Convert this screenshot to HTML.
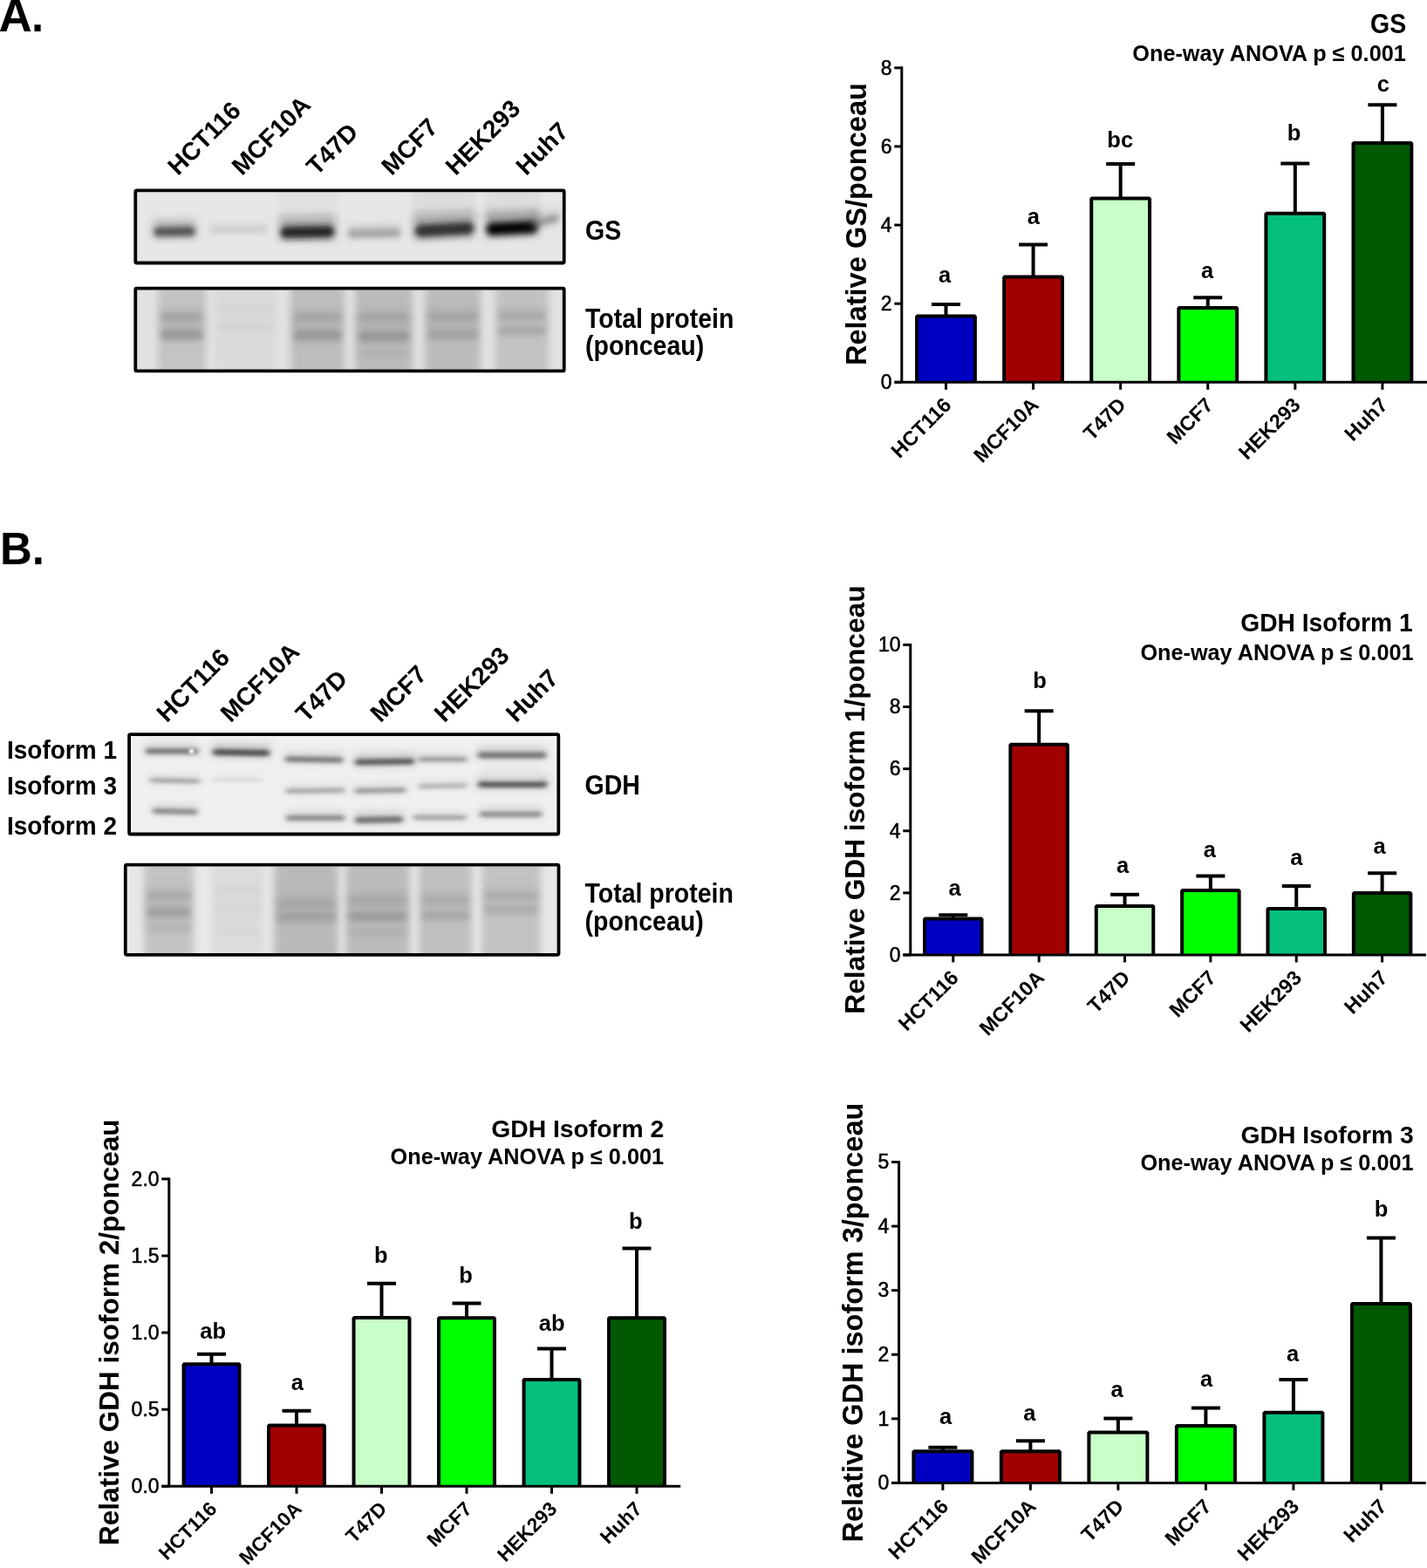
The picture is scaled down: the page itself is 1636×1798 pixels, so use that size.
<!DOCTYPE html>
<html><head><meta charset="utf-8"><title>Figure</title><style>html,body{margin:0;padding:0;background:#fff;overflow:hidden}svg{display:block}</style></head><body>
<svg width="1636" height="1798" viewBox="0 0 1636 1798" font-family="'Liberation Sans', Arial, Helvetica, sans-serif" fill="#000">
<defs><filter id="b2" x="-50%" y="-200%" width="200%" height="500%"><feGaussianBlur stdDeviation="2.2 2.4"/></filter><filter id="b25" x="-50%" y="-200%" width="200%" height="500%"><feGaussianBlur stdDeviation="3 3.6"/></filter><filter id="b3" x="-50%" y="-200%" width="200%" height="500%"><feGaussianBlur stdDeviation="3.2 3.4"/></filter><filter id="b4" x="-30%" y="-30%" width="160%" height="160%"><feGaussianBlur stdDeviation="4.5 3"/></filter><filter id="bg" x="-50%" y="-200%" width="200%" height="500%"><feGaussianBlur stdDeviation="3 1.9"/></filter><filter id="b1" x="-100%" y="-100%" width="300%" height="300%"><feGaussianBlur stdDeviation="0.8"/></filter><filter id="b5" x="-50%" y="-100%" width="200%" height="300%"><feGaussianBlur stdDeviation="4 4"/></filter></defs>
<rect width="1636" height="1798" fill="#fff"/>
<text x="-1.6" y="35.8" font-size="53" font-weight="bold">A</text>
<text x="36.1" y="35.8" font-size="51" font-weight="bold">.</text>
<text x="0" y="646.7" font-size="51" font-weight="bold">B.</text>
<text transform="translate(204.1 202.3) rotate(-45)" font-size="28.4" font-weight="bold">HCT116</text>
<text transform="translate(277.4 202.3) rotate(-45)" font-size="28.4" font-weight="bold">MCF10A</text>
<text transform="translate(363.1 202.3) rotate(-45)" font-size="28.4" font-weight="bold">T47D</text>
<text transform="translate(449.1 202.3) rotate(-45)" font-size="28.4" font-weight="bold">MCF7</text>
<text transform="translate(522.4 202.3) rotate(-45)" font-size="28.4" font-weight="bold">HEK293</text>
<text transform="translate(603.2 202.3) rotate(-45)" font-size="28.4" font-weight="bold">Huh7</text>
<clipPath id="cA1"><rect x="157.2" y="220.3" width="487.6" height="79.3"/></clipPath>
<g clip-path="url(#cA1)">
<rect x="153.4" y="216.5" width="495.2" height="86.9" fill="#e7e7e7"/>
<rect x="472" y="210" width="73" height="52" fill="#d6d6d6" fill-opacity="0.6" filter="url(#b4)"/>
<rect x="556" y="210" width="64" height="52" fill="#d6d6d6" fill-opacity="0.6" filter="url(#b4)"/>
<rect x="319" y="210" width="67" height="52" fill="#dadada" fill-opacity="0.5" filter="url(#b4)"/>
<path d="M175 251.3 L225 250.8 L225 272.8 L175 273.3 Z" fill="#3c3c3c" fill-opacity="0.23" filter="url(#b5)"/><path d="M180 260.8 L220 260.3 Q228 265.3 220 270.3 L180 270.8 Q172 265.8 180 260.8 Z" fill="#3c3c3c" fill-opacity="0.9" filter="url(#b25)"/>
<path d="M240 253.05 L307 253.05 L307 268.45 L240 268.45 Z" fill="#c4c4c4" fill-opacity="0.2" filter="url(#b5)"/><path d="M243.5 259.7 L303.5 259.7 Q309.1 263.2 303.5 266.7 L243.5 266.7 Q237.9 263.2 243.5 259.7 Z" fill="#c4c4c4" fill-opacity="0.8" filter="url(#b25)"/>
<path d="M320 247.65 L385 246.65 L385 275.25 L320 276.25 Z" fill="#181818" fill-opacity="0.24" filter="url(#b5)"/><path d="M326.5 260 L378.5 259 Q388.9 265.5 378.5 272 L326.5 273 Q316.1 266.5 326.5 260 Z" fill="#181818" fill-opacity="0.95" filter="url(#b25)"/>
<path d="M398 256.4 L460 255.4 L460 273 L398 274 Z" fill="#8c8c8c" fill-opacity="0.2" filter="url(#b5)"/><path d="M402 264 L456 263 Q462.4 267 456 271 L402 272 Q395.6 268 402 264 Z" fill="#8c8c8c" fill-opacity="0.8" filter="url(#b25)"/>
<path d="M474 244.5 L545 241.5 L545 272.3 L474 275.3 Z" fill="#262626" fill-opacity="0.24" filter="url(#b5)"/><path d="M481 257.8 L538 254.8 Q549.2 261.8 538 268.8 L481 271.8 Q469.8 264.8 481 257.8 Z" fill="#262626" fill-opacity="0.95" filter="url(#b25)"/>
<path d="M556 242.5 L618 240 L618 270.8 L556 273.3 Z" fill="#000" fill-opacity="0.25" filter="url(#b5)"/><path d="M563 255.8 L611 253.3 Q622.2 260.3 611 267.3 L563 269.8 Q551.8 262.8 563 255.8 Z" fill="#000" fill-opacity="1" filter="url(#b25)"/>
<path d="M608 243.95 L642 236.95 L642 256.75 L608 263.75 Z" fill="#666" fill-opacity="0.14" filter="url(#b5)"/><path d="M612.5 252.5 L637.5 245.5 Q644.7 250 637.5 254.5 L612.5 261.5 Q605.3 257 612.5 252.5 Z" fill="#666" fill-opacity="0.55" filter="url(#b3)"/>
</g>
<rect x="155.3" y="218.4" width="491.4" height="83.1" fill="none" stroke="#000" stroke-width="3.8" rx="1.5"/>
<clipPath id="cA2"><rect x="157.2" y="332.5" width="487.6" height="91"/></clipPath>
<g clip-path="url(#cA2)">
<rect x="153.4" y="328.7" width="495.2" height="98.6" fill="#e2e2e2"/>
<rect x="181" y="320.7" width="55" height="114.6" fill="#c4c4c4" fill-opacity="1" filter="url(#b4)"/>
<path d="M183 350.15 L234 350.15 L234 369.95 L183 369.95 Z" fill="#8a8a8a" fill-opacity="0.17" filter="url(#b5)"/><path d="M187.5 358.7 L229.5 358.7 Q236.7 363.2 229.5 367.7 L187.5 367.7 Q180.3 363.2 187.5 358.7 Z" fill="#8a8a8a" fill-opacity="0.48" filter="url(#b3)"/>
<path d="M183 367.85 L234 367.85 L234 392.05 L183 392.05 Z" fill="#7c7c7c" fill-opacity="0.18" filter="url(#b5)"/><path d="M188.5 378.3 L228.5 378.3 Q237.3 383.8 228.5 389.3 L188.5 389.3 Q179.7 383.8 188.5 378.3 Z" fill="#7c7c7c" fill-opacity="0.52" filter="url(#b3)"/>
<rect x="247" y="320.7" width="69" height="114.6" fill="#dadada" fill-opacity="1" filter="url(#b4)"/>
<path d="M249 346.75 L314 346.75 L314 357.75 L249 357.75 Z" fill="#c0c0c0" fill-opacity="0.1" filter="url(#b5)"/><path d="M251.5 351.5 L311.5 351.5 Q315.5 354 311.5 356.5 L251.5 356.5 Q247.5 354 251.5 351.5 Z" fill="#c0c0c0" fill-opacity="0.28" filter="url(#b3)"/>
<path d="M249 367.55 L314 367.55 L314 378.55 L249 378.55 Z" fill="#c0c0c0" fill-opacity="0.1" filter="url(#b5)"/><path d="M251.5 372.3 L311.5 372.3 Q315.5 374.8 311.5 377.3 L251.5 377.3 Q247.5 374.8 251.5 372.3 Z" fill="#c0c0c0" fill-opacity="0.28" filter="url(#b3)"/>
<rect x="333" y="320.7" width="62" height="114.6" fill="#bebebe" fill-opacity="1" filter="url(#b4)"/>
<path d="M335 350.65 L393 350.65 L393 370.45 L335 370.45 Z" fill="#8e8e8e" fill-opacity="0.15" filter="url(#b5)"/><path d="M339.5 359.2 L388.5 359.2 Q395.7 363.7 388.5 368.2 L339.5 368.2 Q332.3 363.7 339.5 359.2 Z" fill="#8e8e8e" fill-opacity="0.44" filter="url(#b3)"/>
<path d="M335 368.45 L393 368.45 L393 392.65 L335 392.65 Z" fill="#7c7c7c" fill-opacity="0.17" filter="url(#b5)"/><path d="M340.5 378.9 L387.5 378.9 Q396.3 384.4 387.5 389.9 L340.5 389.9 Q331.7 384.4 340.5 378.9 Z" fill="#7c7c7c" fill-opacity="0.48" filter="url(#b3)"/>
<rect x="407" y="320.7" width="66" height="114.6" fill="#bcbcbc" fill-opacity="1" filter="url(#b4)"/>
<path d="M409 350.95 L471 350.95 L471 370.75 L409 370.75 Z" fill="#8e8e8e" fill-opacity="0.15" filter="url(#b5)"/><path d="M413.5 359.5 L466.5 359.5 Q473.7 364 466.5 368.5 L413.5 368.5 Q406.3 364 413.5 359.5 Z" fill="#8e8e8e" fill-opacity="0.44" filter="url(#b3)"/>
<path d="M409 369.85 L471 369.85 L471 394.05 L409 394.05 Z" fill="#7c7c7c" fill-opacity="0.17" filter="url(#b5)"/><path d="M414.5 380.3 L465.5 380.3 Q474.3 385.8 465.5 391.3 L414.5 391.3 Q405.7 385.8 414.5 380.3 Z" fill="#7c7c7c" fill-opacity="0.48" filter="url(#b3)"/>
<path d="M409 394.4 L471 394.4 L471 412 L409 412 Z" fill="#a0a0a0" fill-opacity="0.11" filter="url(#b5)"/><path d="M413 402 L467 402 Q473.4 406 467 410 L413 410 Q406.6 406 413 402 Z" fill="#a0a0a0" fill-opacity="0.32" filter="url(#b3)"/>
<rect x="487" y="320.7" width="64" height="114.6" fill="#bcbcbc" fill-opacity="1" filter="url(#b4)"/>
<path d="M489 350.15 L549 350.15 L549 369.95 L489 369.95 Z" fill="#8e8e8e" fill-opacity="0.15" filter="url(#b5)"/><path d="M493.5 358.7 L544.5 358.7 Q551.7 363.2 544.5 367.7 L493.5 367.7 Q486.3 363.2 493.5 358.7 Z" fill="#8e8e8e" fill-opacity="0.44" filter="url(#b3)"/>
<path d="M489 369 L549 369 L549 391 L489 391 Z" fill="#888" fill-opacity="0.15" filter="url(#b5)"/><path d="M494 378.5 L544 378.5 Q552 383.5 544 388.5 L494 388.5 Q486 383.5 494 378.5 Z" fill="#888" fill-opacity="0.44" filter="url(#b3)"/>
<rect x="568" y="320.7" width="61" height="114.6" fill="#c2c2c2" fill-opacity="1" filter="url(#b4)"/>
<path d="M570 350.4 L627 350.4 L627 368 L570 368 Z" fill="#8e8e8e" fill-opacity="0.15" filter="url(#b5)"/><path d="M574 358 L623 358 Q629.4 362 623 366 L574 366 Q567.6 362 574 358 Z" fill="#8e8e8e" fill-opacity="0.44" filter="url(#b3)"/>
<path d="M570 367.9 L627 367.9 L627 385.5 L570 385.5 Z" fill="#8e8e8e" fill-opacity="0.15" filter="url(#b5)"/><path d="M574 375.5 L623 375.5 Q629.4 379.5 623 383.5 L574 383.5 Q567.6 379.5 574 375.5 Z" fill="#8e8e8e" fill-opacity="0.44" filter="url(#b3)"/>
</g>
<rect x="155.3" y="330.6" width="491.4" height="94.8" fill="none" stroke="#000" stroke-width="3.8" rx="1.5"/>
<text transform="translate(671 274.7) scale(1 1.07)" font-size="28.5" font-weight="bold">GS</text>
<text transform="translate(671 375.7) scale(1 1.08)" font-size="28.5" font-weight="bold">Total protein</text>
<text transform="translate(671 406.9) scale(1 1.08)" font-size="28.5" font-weight="bold">(ponceau)</text>
<text transform="translate(191.2 829.4) rotate(-45)" font-size="28.4" font-weight="bold">HCT116</text>
<text transform="translate(264.6 829.4) rotate(-45)" font-size="28.4" font-weight="bold">MCF10A</text>
<text transform="translate(350.8 829.4) rotate(-45)" font-size="28.4" font-weight="bold">T47D</text>
<text transform="translate(436.2 829.4) rotate(-45)" font-size="28.4" font-weight="bold">MCF7</text>
<text transform="translate(509.6 829.4) rotate(-45)" font-size="28.4" font-weight="bold">HEK293</text>
<text transform="translate(591.7 829.4) rotate(-45)" font-size="28.4" font-weight="bold">Huh7</text>
<clipPath id="cB1"><rect x="150" y="844.1" width="488.4" height="110.5"/></clipPath>
<g clip-path="url(#cB1)">
<rect x="146.2" y="840.3" width="496" height="118.1" fill="#f0f0f0"/>
<path d="M166 852.8 L228 852.8 L228 866 L166 866 Z" fill="#5a5a5a" fill-opacity="0.2" filter="url(#b5)"/><path d="M169 858.5 L225 858.5 Q229.8 861.5 225 864.5 L169 864.5 Q164.2 861.5 169 858.5 Z" fill="#5a5a5a" fill-opacity="0.8" filter="url(#bg)"/>
<circle cx="219.5" cy="861.5" r="3" fill="#f2f2f2" filter="url(#b1)"/>
<path d="M243 852.25 L310 853.25 L310 868.65 L243 867.65 Z" fill="#383838" fill-opacity="0.21" filter="url(#b5)"/><path d="M246.5 858.9 L306.5 859.9 Q312.1 863.4 306.5 866.9 L246.5 865.9 Q240.9 862.4 246.5 858.9 Z" fill="#383838" fill-opacity="0.85" filter="url(#bg)"/>
<path d="M326 861.8 L394 862.8 L394 876 L326 875 Z" fill="#5e5e5e" fill-opacity="0.2" filter="url(#b5)"/><path d="M329 867.5 L391 868.5 Q395.8 871.5 391 874.5 L329 873.5 Q324.2 870.5 329 867.5 Z" fill="#5e5e5e" fill-opacity="0.8" filter="url(#bg)"/>
<path d="M406 863.85 L476 862.85 L476 878.25 L406 879.25 Z" fill="#4a4a4a" fill-opacity="0.21" filter="url(#b5)"/><path d="M409.5 870.5 L472.5 869.5 Q478.1 873 472.5 876.5 L409.5 877.5 Q403.9 874 409.5 870.5 Z" fill="#4a4a4a" fill-opacity="0.85" filter="url(#bg)"/>
<path d="M479 863.55 L536 863.55 L536 874.55 L479 874.55 Z" fill="#7a7a7a" fill-opacity="0.19" filter="url(#b5)"/><path d="M481.5 868.3 L533.5 868.3 Q537.5 870.8 533.5 873.3 L481.5 873.3 Q477.5 870.8 481.5 868.3 Z" fill="#7a7a7a" fill-opacity="0.75" filter="url(#bg)"/>
<path d="M547 855.85 L627 855.85 L627 871.25 L547 871.25 Z" fill="#5a5a5a" fill-opacity="0.2" filter="url(#b5)"/><path d="M550.5 862.5 L623.5 862.5 Q629.1 866 623.5 869.5 L550.5 869.5 Q544.9 866 550.5 862.5 Z" fill="#5a5a5a" fill-opacity="0.8" filter="url(#bg)"/>
<path d="M171 887.55 L230 888.55 L230 899.55 L171 898.55 Z" fill="#888" fill-opacity="0.17" filter="url(#b5)"/><path d="M173.5 892.3 L227.5 893.3 Q231.5 895.8 227.5 898.3 L173.5 897.3 Q169.5 894.8 173.5 892.3 Z" fill="#888" fill-opacity="0.7" filter="url(#bg)"/>
<path d="M243 888.2 L302 888.2 L302 897 L243 897 Z" fill="#c8c8c8" fill-opacity="0.12" filter="url(#b5)"/><path d="M245 892 L300 892 Q303.2 894 300 896 L245 896 Q241.8 894 245 892 Z" fill="#c8c8c8" fill-opacity="0.5" filter="url(#bg)"/>
<path d="M327 900.05 L396 899.05 L396 910.05 L327 911.05 Z" fill="#888" fill-opacity="0.17" filter="url(#b5)"/><path d="M329.5 904.8 L393.5 903.8 Q397.5 906.3 393.5 908.8 L329.5 909.8 Q325.5 907.3 329.5 904.8 Z" fill="#888" fill-opacity="0.7" filter="url(#bg)"/>
<path d="M406 899.75 L466 898.75 L466 909.75 L406 910.75 Z" fill="#7a7a7a" fill-opacity="0.19" filter="url(#b5)"/><path d="M408.5 904.5 L463.5 903.5 Q467.5 906 463.5 908.5 L408.5 909.5 Q404.5 907 408.5 904.5 Z" fill="#7a7a7a" fill-opacity="0.75" filter="url(#bg)"/>
<path d="M479 894.55 L536 893.55 L536 904.55 L479 905.55 Z" fill="#999" fill-opacity="0.17" filter="url(#b5)"/><path d="M481.5 899.3 L533.5 898.3 Q537.5 900.8 533.5 903.3 L481.5 904.3 Q477.5 901.8 481.5 899.3 Z" fill="#999" fill-opacity="0.7" filter="url(#bg)"/>
<path d="M547 889.25 L628 889.25 L628 904.65 L547 904.65 Z" fill="#444" fill-opacity="0.21" filter="url(#b5)"/><path d="M550.5 895.9 L624.5 895.9 Q630.1 899.4 624.5 902.9 L550.5 902.9 Q544.9 899.4 550.5 895.9 Z" fill="#444" fill-opacity="0.85" filter="url(#bg)"/>
<rect x="555" y="878" width="65" height="15" fill="#e2e2e2" fill-opacity="0.7" filter="url(#b3)"/>
<path d="M174 921.3 L227 922.3 L227 935.5 L174 934.5 Z" fill="#6e6e6e" fill-opacity="0.19" filter="url(#b5)"/><path d="M177 927 L224 928 Q228.8 931 224 934 L177 933 Q172.2 930 177 927 Z" fill="#6e6e6e" fill-opacity="0.75" filter="url(#bg)"/>
<path d="M327 929.2 L396 929.2 L396 942.4 L327 942.4 Z" fill="#6e6e6e" fill-opacity="0.19" filter="url(#b5)"/><path d="M330 934.9 L393 934.9 Q397.8 937.9 393 940.9 L330 940.9 Q325.2 937.9 330 934.9 Z" fill="#6e6e6e" fill-opacity="0.75" filter="url(#bg)"/>
<path d="M406 930.35 L463 929.35 L463 944.75 L406 945.75 Z" fill="#555" fill-opacity="0.2" filter="url(#b5)"/><path d="M409.5 937 L459.5 936 Q465.1 939.5 459.5 943 L409.5 944 Q403.9 940.5 409.5 937 Z" fill="#555" fill-opacity="0.8" filter="url(#bg)"/>
<path d="M473 930.25 L535 930.25 L535 941.25 L473 941.25 Z" fill="#8a8a8a" fill-opacity="0.19" filter="url(#b5)"/><path d="M475.5 935 L532.5 935 Q536.5 937.5 532.5 940 L475.5 940 Q471.5 937.5 475.5 935 Z" fill="#8a8a8a" fill-opacity="0.75" filter="url(#bg)"/>
<path d="M549 925.1 L622 925.1 L622 938.3 L549 938.3 Z" fill="#707070" fill-opacity="0.19" filter="url(#b5)"/><path d="M552 930.8 L619 930.8 Q623.8 933.8 619 936.8 L552 936.8 Q547.2 933.8 552 930.8 Z" fill="#707070" fill-opacity="0.75" filter="url(#bg)"/>
</g>
<rect x="148.1" y="842.2" width="492.2" height="114.3" fill="none" stroke="#000" stroke-width="3.8" rx="1.5"/>
<clipPath id="cB2"><rect x="145.7" y="993.5" width="492.9" height="99.4"/></clipPath>
<g clip-path="url(#cB2)">
<rect x="141.9" y="989.7" width="500.5" height="107" fill="#e8e8e8"/>
<rect x="165" y="981.7" width="57" height="123" fill="#c2c2c2" fill-opacity="1" filter="url(#b4)"/>
<path d="M167 1015.5 L220 1015.5 L220 1033.1 L167 1033.1 Z" fill="#909090" fill-opacity="0.15" filter="url(#b5)"/><path d="M171 1023.1 L216 1023.1 Q222.4 1027.1 216 1031.1 L171 1031.1 Q164.6 1027.1 171 1023.1 Z" fill="#909090" fill-opacity="0.44" filter="url(#b3)"/>
<path d="M167 1031.7 L220 1031.7 L220 1053.7 L167 1053.7 Z" fill="#848484" fill-opacity="0.17" filter="url(#b5)"/><path d="M172 1041.2 L215 1041.2 Q223 1046.2 215 1051.2 L172 1051.2 Q164 1046.2 172 1041.2 Z" fill="#848484" fill-opacity="0.48" filter="url(#b3)"/>
<path d="M167 1054.35 L220 1054.35 L220 1069.75 L167 1069.75 Z" fill="#a0a0a0" fill-opacity="0.13" filter="url(#b5)"/><path d="M170.5 1061 L216.5 1061 Q222.1 1064.5 216.5 1068 L170.5 1068 Q164.9 1064.5 170.5 1061 Z" fill="#a0a0a0" fill-opacity="0.36" filter="url(#b3)"/>
<rect x="243" y="981.7" width="59" height="123" fill="#dcdcdc" fill-opacity="1" filter="url(#b4)"/>
<path d="M245 1013.75 L300 1013.75 L300 1024.75 L245 1024.75 Z" fill="#bcbcbc" fill-opacity="0.08" filter="url(#b5)"/><path d="M247.5 1018.5 L297.5 1018.5 Q301.5 1021 297.5 1023.5 L247.5 1023.5 Q243.5 1021 247.5 1018.5 Z" fill="#bcbcbc" fill-opacity="0.24" filter="url(#b3)"/>
<path d="M245 1034.75 L300 1034.75 L300 1045.75 L245 1045.75 Z" fill="#bcbcbc" fill-opacity="0.08" filter="url(#b5)"/><path d="M247.5 1039.5 L297.5 1039.5 Q301.5 1042 297.5 1044.5 L247.5 1044.5 Q243.5 1042 247.5 1039.5 Z" fill="#bcbcbc" fill-opacity="0.24" filter="url(#b3)"/>
<path d="M245 1060.75 L300 1060.75 L300 1071.75 L245 1071.75 Z" fill="#c4c4c4" fill-opacity="0.07" filter="url(#b5)"/><path d="M247.5 1065.5 L297.5 1065.5 Q301.5 1068 297.5 1070.5 L247.5 1070.5 Q243.5 1068 247.5 1065.5 Z" fill="#c4c4c4" fill-opacity="0.2" filter="url(#b3)"/>
<rect x="314" y="981.7" width="74" height="123" fill="#bababa" fill-opacity="1" filter="url(#b4)"/>
<path d="M316 1022.85 L386 1022.85 L386 1042.65 L316 1042.65 Z" fill="#909090" fill-opacity="0.14" filter="url(#b5)"/><path d="M320.5 1031.4 L381.5 1031.4 Q388.7 1035.9 381.5 1040.4 L320.5 1040.4 Q313.3 1035.9 320.5 1031.4 Z" fill="#909090" fill-opacity="0.4" filter="url(#b3)"/>
<path d="M316 1037.3 L386 1037.3 L386 1059.3 L316 1059.3 Z" fill="#888" fill-opacity="0.15" filter="url(#b5)"/><path d="M321 1046.8 L381 1046.8 Q389 1051.8 381 1056.8 L321 1056.8 Q313 1051.8 321 1046.8 Z" fill="#888" fill-opacity="0.44" filter="url(#b3)"/>
<rect x="396" y="981.7" width="74" height="123" fill="#bcbcbc" fill-opacity="1" filter="url(#b4)"/>
<path d="M398 1018.95 L468 1018.95 L468 1038.75 L398 1038.75 Z" fill="#909090" fill-opacity="0.14" filter="url(#b5)"/><path d="M402.5 1027.5 L463.5 1027.5 Q470.7 1032 463.5 1036.5 L402.5 1036.5 Q395.3 1032 402.5 1027.5 Z" fill="#909090" fill-opacity="0.4" filter="url(#b3)"/>
<path d="M398 1036.5 L468 1036.5 L468 1058.5 L398 1058.5 Z" fill="#808080" fill-opacity="0.15" filter="url(#b5)"/><path d="M403 1046 L463 1046 Q471 1051 463 1056 L403 1056 Q395 1051 403 1046 Z" fill="#808080" fill-opacity="0.44" filter="url(#b3)"/>
<path d="M398 1059.85 L468 1059.85 L468 1075.25 L398 1075.25 Z" fill="#9a9a9a" fill-opacity="0.11" filter="url(#b5)"/><path d="M401.5 1066.5 L464.5 1066.5 Q470.1 1070 464.5 1073.5 L401.5 1073.5 Q395.9 1070 401.5 1066.5 Z" fill="#9a9a9a" fill-opacity="0.32" filter="url(#b3)"/>
<rect x="480" y="981.7" width="61" height="123" fill="#c0c0c0" fill-opacity="1" filter="url(#b4)"/>
<path d="M482 1020.4 L539 1020.4 L539 1038 L482 1038 Z" fill="#909090" fill-opacity="0.14" filter="url(#b5)"/><path d="M486 1028 L535 1028 Q541.4 1032 535 1036 L486 1036 Q479.6 1032 486 1028 Z" fill="#909090" fill-opacity="0.4" filter="url(#b3)"/>
<path d="M482 1036.95 L539 1036.95 L539 1056.75 L482 1056.75 Z" fill="#8a8a8a" fill-opacity="0.14" filter="url(#b5)"/><path d="M486.5 1045.5 L534.5 1045.5 Q541.7 1050 534.5 1054.5 L486.5 1054.5 Q479.3 1050 486.5 1045.5 Z" fill="#8a8a8a" fill-opacity="0.4" filter="url(#b3)"/>
<rect x="552" y="981.7" width="68" height="123" fill="#c2c2c2" fill-opacity="1" filter="url(#b4)"/>
<path d="M554 1015.4 L618 1015.4 L618 1033 L554 1033 Z" fill="#909090" fill-opacity="0.14" filter="url(#b5)"/><path d="M558 1023 L614 1023 Q620.4 1027 614 1031 L558 1031 Q551.6 1027 558 1023 Z" fill="#909090" fill-opacity="0.4" filter="url(#b3)"/>
<path d="M554 1031.4 L618 1031.4 L618 1049 L554 1049 Z" fill="#909090" fill-opacity="0.14" filter="url(#b5)"/><path d="M558 1039 L614 1039 Q620.4 1043 614 1047 L558 1047 Q551.6 1043 558 1039 Z" fill="#909090" fill-opacity="0.4" filter="url(#b3)"/>
</g>
<rect x="143.8" y="991.6" width="496.7" height="103.2" fill="none" stroke="#000" stroke-width="3.8" rx="1.5"/>
<text transform="translate(8 869.8) scale(1 1.08)" font-size="28" font-weight="bold">Isoform 1</text>
<text transform="translate(8 910.8) scale(1 1.08)" font-size="28" font-weight="bold">Isoform 3</text>
<text transform="translate(8 957.1) scale(1 1.08)" font-size="28" font-weight="bold">Isoform 2</text>
<text transform="translate(670.5 911.1) scale(1 1.07)" font-size="28.5" font-weight="bold">GDH</text>
<text transform="translate(670.5 1035.3) scale(1 1.08)" font-size="28.5" font-weight="bold">Total protein</text>
<text transform="translate(670.5 1066.9) scale(1 1.08)" font-size="28.5" font-weight="bold">(ponceau)</text>
<rect x="1051.1" y="362.6" width="66.8" height="75.7" fill="#0000c2"/>
<path d="M1051.1 438.3V362.6H1117.9V438.3" fill="none" stroke="#000" stroke-width="4" stroke-linejoin="bevel"/>
<path d="M1084.5 362.6V349M1068 349H1101" stroke="#000" stroke-width="4" fill="none"/>
<text x="1083.1" y="323.6" font-size="25.5" font-weight="bold" text-anchor="middle">a</text>
<rect x="1151.18" y="317.6" width="66.8" height="120.7" fill="#a00000"/>
<path d="M1151.18 438.3V317.6H1217.98V438.3" fill="none" stroke="#000" stroke-width="4" stroke-linejoin="bevel"/>
<path d="M1184.58 317.6V280.5M1168.08 280.5H1201.08" stroke="#000" stroke-width="4" fill="none"/>
<text x="1184.9" y="257.2" font-size="25.5" font-weight="bold" text-anchor="middle">a</text>
<rect x="1251.26" y="227.4" width="66.8" height="210.9" fill="#c8ffc8"/>
<path d="M1251.26 438.3V227.4H1318.06V438.3" fill="none" stroke="#000" stroke-width="4" stroke-linejoin="bevel"/>
<path d="M1284.66 227.4V187.9M1268.16 187.9H1301.16" stroke="#000" stroke-width="4" fill="none"/>
<text x="1284.2" y="168.6" font-size="25.5" font-weight="bold" text-anchor="middle">bc</text>
<rect x="1351.34" y="353" width="66.8" height="85.3" fill="#00ff00"/>
<path d="M1351.34 438.3V353H1418.14V438.3" fill="none" stroke="#000" stroke-width="4" stroke-linejoin="bevel"/>
<path d="M1384.74 353V341.3M1368.24 341.3H1401.24" stroke="#000" stroke-width="4" fill="none"/>
<text x="1384" y="319" font-size="25.5" font-weight="bold" text-anchor="middle">a</text>
<rect x="1451.42" y="244.7" width="66.8" height="193.6" fill="#04bf7b"/>
<path d="M1451.42 438.3V244.7H1518.22V438.3" fill="none" stroke="#000" stroke-width="4" stroke-linejoin="bevel"/>
<path d="M1484.82 244.7V187.4M1468.32 187.4H1501.32" stroke="#000" stroke-width="4" fill="none"/>
<text x="1483.6" y="161.3" font-size="25.5" font-weight="bold" text-anchor="middle">b</text>
<rect x="1551.5" y="164" width="66.8" height="274.3" fill="#005800"/>
<path d="M1551.5 438.3V164H1618.3V438.3" fill="none" stroke="#000" stroke-width="4" stroke-linejoin="bevel"/>
<path d="M1584.9 164V120.3M1568.4 120.3H1601.4" stroke="#000" stroke-width="4" fill="none"/>
<text x="1585.8" y="104.5" font-size="25.5" font-weight="bold" text-anchor="middle">c</text>
<path d="M1033.8 438.3V76.3" stroke="#000" stroke-width="3" fill="none"/>
<path d="M1025.7 438.3H1636" stroke="#000" stroke-width="3" fill="none"/>
<path d="M1025.3 438.3H1033.8" stroke="#000" stroke-width="3"/>
<text x="1022.6" y="446.1" font-size="23" text-anchor="end" stroke="#000" stroke-width="0.55">0</text>
<path d="M1025.3 348.18H1033.8" stroke="#000" stroke-width="3"/>
<text x="1022.6" y="355.98" font-size="23" text-anchor="end" stroke="#000" stroke-width="0.55">2</text>
<path d="M1025.3 258.05H1033.8" stroke="#000" stroke-width="3"/>
<text x="1022.6" y="265.85" font-size="23" text-anchor="end" stroke="#000" stroke-width="0.55">4</text>
<path d="M1025.3 167.93H1033.8" stroke="#000" stroke-width="3"/>
<text x="1022.6" y="175.73" font-size="23" text-anchor="end" stroke="#000" stroke-width="0.55">6</text>
<path d="M1025.3 77.8H1033.8" stroke="#000" stroke-width="3"/>
<text x="1022.6" y="85.6" font-size="23" text-anchor="end" stroke="#000" stroke-width="0.55">8</text>
<path d="M1084.5 438.3V446.8" stroke="#000" stroke-width="3"/>
<text transform="translate(1092 465.7) rotate(-45)" font-size="23.4" font-weight="bold" text-anchor="end">HCT116</text>
<path d="M1184.58 438.3V446.8" stroke="#000" stroke-width="3"/>
<text transform="translate(1192.08 465.7) rotate(-45)" font-size="23.4" font-weight="bold" text-anchor="end">MCF10A</text>
<path d="M1284.66 438.3V446.8" stroke="#000" stroke-width="3"/>
<text transform="translate(1292.16 465.7) rotate(-45)" font-size="23.4" font-weight="bold" text-anchor="end">T47D</text>
<path d="M1384.74 438.3V446.8" stroke="#000" stroke-width="3"/>
<text transform="translate(1392.24 465.7) rotate(-45)" font-size="23.4" font-weight="bold" text-anchor="end">MCF7</text>
<path d="M1484.82 438.3V446.8" stroke="#000" stroke-width="3"/>
<text transform="translate(1492.32 465.7) rotate(-45)" font-size="23.4" font-weight="bold" text-anchor="end">HEK293</text>
<path d="M1584.9 438.3V446.8" stroke="#000" stroke-width="3"/>
<text transform="translate(1592.4 465.7) rotate(-45)" font-size="23.4" font-weight="bold" text-anchor="end">Huh7</text>
<text transform="translate(1612.2 37.9) scale(1 1.13)" font-size="28.5" font-weight="bold" text-anchor="end">GS</text>
<text x="1611.8" y="69.6" font-size="25.4" font-weight="bold" text-anchor="end" textLength="313.5" lengthAdjust="spacingAndGlyphs">One-way ANOVA p ≤ 0.001</text>
<text transform="translate(992.5 419.1) rotate(-90)" font-size="32.6" font-weight="bold">Relative GS/ponceau</text>
<rect x="1060.05" y="1053.6" width="65.5" height="41.4" fill="#0000c2"/>
<path d="M1060.05 1095V1053.6H1125.55V1095" fill="none" stroke="#000" stroke-width="4" stroke-linejoin="bevel"/>
<path d="M1092.8 1053.6V1049.3M1076.3 1049.3H1109.3" stroke="#000" stroke-width="4" fill="none"/>
<text x="1094.6" y="1027.4" font-size="25.5" font-weight="bold" text-anchor="middle">a</text>
<rect x="1158.41" y="853.7" width="65.5" height="241.3" fill="#a00000"/>
<path d="M1158.41 1095V853.7H1223.91V1095" fill="none" stroke="#000" stroke-width="4" stroke-linejoin="bevel"/>
<path d="M1191.16 853.7V815.3M1174.66 815.3H1207.66" stroke="#000" stroke-width="4" fill="none"/>
<text x="1192.1" y="789.4" font-size="25.5" font-weight="bold" text-anchor="middle">b</text>
<rect x="1256.77" y="1038.9" width="65.5" height="56.1" fill="#c8ffc8"/>
<path d="M1256.77 1095V1038.9H1322.27V1095" fill="none" stroke="#000" stroke-width="4" stroke-linejoin="bevel"/>
<path d="M1289.52 1038.9V1025.7M1273.02 1025.7H1306.02" stroke="#000" stroke-width="4" fill="none"/>
<text x="1287.1" y="1001.4" font-size="25.5" font-weight="bold" text-anchor="middle">a</text>
<rect x="1355.13" y="1021.1" width="65.5" height="73.9" fill="#00ff00"/>
<path d="M1355.13 1095V1021.1H1420.63V1095" fill="none" stroke="#000" stroke-width="4" stroke-linejoin="bevel"/>
<path d="M1387.88 1021.1V1004.5M1371.38 1004.5H1404.38" stroke="#000" stroke-width="4" fill="none"/>
<text x="1386.8" y="982.7" font-size="25.5" font-weight="bold" text-anchor="middle">a</text>
<rect x="1453.49" y="1041.9" width="65.5" height="53.1" fill="#04bf7b"/>
<path d="M1453.49 1095V1041.9H1518.99V1095" fill="none" stroke="#000" stroke-width="4" stroke-linejoin="bevel"/>
<path d="M1486.24 1041.9V1016.1M1469.74 1016.1H1502.74" stroke="#000" stroke-width="4" fill="none"/>
<text x="1486.4" y="992.3" font-size="25.5" font-weight="bold" text-anchor="middle">a</text>
<rect x="1551.85" y="1023.9" width="65.5" height="71.1" fill="#005800"/>
<path d="M1551.85 1095V1023.9H1617.35V1095" fill="none" stroke="#000" stroke-width="4" stroke-linejoin="bevel"/>
<path d="M1584.6 1023.9V1001.3M1568.1 1001.3H1601.1" stroke="#000" stroke-width="4" fill="none"/>
<text x="1581.7" y="978.5" font-size="25.5" font-weight="bold" text-anchor="middle">a</text>
<path d="M1043.8 1095V737.9" stroke="#000" stroke-width="3" fill="none"/>
<path d="M1035.5 1095H1635" stroke="#000" stroke-width="3" fill="none"/>
<path d="M1035.3 1095H1043.8" stroke="#000" stroke-width="3"/>
<text x="1032.6" y="1102.8" font-size="23" text-anchor="end" stroke="#000" stroke-width="0.55">0</text>
<path d="M1035.3 1023.88H1043.8" stroke="#000" stroke-width="3"/>
<text x="1032.6" y="1031.68" font-size="23" text-anchor="end" stroke="#000" stroke-width="0.55">2</text>
<path d="M1035.3 952.76H1043.8" stroke="#000" stroke-width="3"/>
<text x="1032.6" y="960.56" font-size="23" text-anchor="end" stroke="#000" stroke-width="0.55">4</text>
<path d="M1035.3 881.64H1043.8" stroke="#000" stroke-width="3"/>
<text x="1032.6" y="889.44" font-size="23" text-anchor="end" stroke="#000" stroke-width="0.55">6</text>
<path d="M1035.3 810.52H1043.8" stroke="#000" stroke-width="3"/>
<text x="1032.6" y="818.32" font-size="23" text-anchor="end" stroke="#000" stroke-width="0.55">8</text>
<path d="M1035.3 739.4H1043.8" stroke="#000" stroke-width="3"/>
<text x="1032.6" y="747.2" font-size="23" text-anchor="end" stroke="#000" stroke-width="0.55">10</text>
<path d="M1092.8 1095V1103.5" stroke="#000" stroke-width="3"/>
<text transform="translate(1100.3 1122.6) rotate(-45)" font-size="23.4" font-weight="bold" text-anchor="end">HCT116</text>
<path d="M1191.16 1095V1103.5" stroke="#000" stroke-width="3"/>
<text transform="translate(1198.66 1122.6) rotate(-45)" font-size="23.4" font-weight="bold" text-anchor="end">MCF10A</text>
<path d="M1289.52 1095V1103.5" stroke="#000" stroke-width="3"/>
<text transform="translate(1297.02 1122.6) rotate(-45)" font-size="23.4" font-weight="bold" text-anchor="end">T47D</text>
<path d="M1387.88 1095V1103.5" stroke="#000" stroke-width="3"/>
<text transform="translate(1395.38 1122.6) rotate(-45)" font-size="23.4" font-weight="bold" text-anchor="end">MCF7</text>
<path d="M1486.24 1095V1103.5" stroke="#000" stroke-width="3"/>
<text transform="translate(1493.74 1122.6) rotate(-45)" font-size="23.4" font-weight="bold" text-anchor="end">HEK293</text>
<path d="M1584.6 1095V1103.5" stroke="#000" stroke-width="3"/>
<text transform="translate(1592.1 1122.6) rotate(-45)" font-size="23.4" font-weight="bold" text-anchor="end">Huh7</text>
<text transform="translate(1619.6 724.3) scale(1 1.02)" font-size="28.2" font-weight="bold" text-anchor="end">GDH Isoform 1</text>
<text x="1620.5" y="757.3" font-size="25.4" font-weight="bold" text-anchor="end" textLength="313.1" lengthAdjust="spacingAndGlyphs">One-way ANOVA p ≤ 0.001</text>
<text transform="translate(991.2 1162.7) rotate(-90)" font-size="31.7" font-weight="bold">Relative GDH isoform 1/ponceau</text>
<rect x="210.55" y="1564.3" width="63.9" height="140" fill="#0000c2"/>
<path d="M210.55 1704.3V1564.3H274.45V1704.3" fill="none" stroke="#000" stroke-width="4" stroke-linejoin="bevel"/>
<path d="M242.5 1564.3V1552.7M226 1552.7H259" stroke="#000" stroke-width="4" fill="none"/>
<text x="244.1" y="1534.5" font-size="25.5" font-weight="bold" text-anchor="middle">ab</text>
<rect x="308.05" y="1634.5" width="63.9" height="69.8" fill="#a00000"/>
<path d="M308.05 1704.3V1634.5H371.95V1704.3" fill="none" stroke="#000" stroke-width="4" stroke-linejoin="bevel"/>
<path d="M340 1634.5V1617.7M323.5 1617.7H356.5" stroke="#000" stroke-width="4" fill="none"/>
<text x="340.8" y="1593.7" font-size="25.5" font-weight="bold" text-anchor="middle">a</text>
<rect x="405.55" y="1511.1" width="63.9" height="193.2" fill="#c8ffc8"/>
<path d="M405.55 1704.3V1511.1H469.45V1704.3" fill="none" stroke="#000" stroke-width="4" stroke-linejoin="bevel"/>
<path d="M437.5 1511.1V1471.8M421 1471.8H454" stroke="#000" stroke-width="4" fill="none"/>
<text x="436.7" y="1447.7" font-size="25.5" font-weight="bold" text-anchor="middle">b</text>
<rect x="503.05" y="1511.3" width="63.9" height="193" fill="#00ff00"/>
<path d="M503.05 1704.3V1511.3H566.95V1704.3" fill="none" stroke="#000" stroke-width="4" stroke-linejoin="bevel"/>
<path d="M535 1511.3V1494.4M518.5 1494.4H551.5" stroke="#000" stroke-width="4" fill="none"/>
<text x="534.1" y="1471.4" font-size="25.5" font-weight="bold" text-anchor="middle">b</text>
<rect x="600.55" y="1581.9" width="63.9" height="122.4" fill="#04bf7b"/>
<path d="M600.55 1704.3V1581.9H664.45V1704.3" fill="none" stroke="#000" stroke-width="4" stroke-linejoin="bevel"/>
<path d="M632.5 1581.9V1546.4M616 1546.4H649" stroke="#000" stroke-width="4" fill="none"/>
<text x="632.6" y="1526" font-size="25.5" font-weight="bold" text-anchor="middle">ab</text>
<rect x="698.05" y="1511.3" width="63.9" height="193" fill="#005800"/>
<path d="M698.05 1704.3V1511.3H761.95V1704.3" fill="none" stroke="#000" stroke-width="4" stroke-linejoin="bevel"/>
<path d="M730 1511.3V1431.5M713.5 1431.5H746.5" stroke="#000" stroke-width="4" fill="none"/>
<text x="728.9" y="1409" font-size="25.5" font-weight="bold" text-anchor="middle">b</text>
<path d="M193.8 1704.3V1350.4" stroke="#000" stroke-width="3" fill="none"/>
<path d="M185.4 1704.3H780.2" stroke="#000" stroke-width="3" fill="none"/>
<path d="M185.3 1704.3H193.8" stroke="#000" stroke-width="3"/>
<text x="182.6" y="1712.1" font-size="23" text-anchor="end" stroke="#000" stroke-width="0.55">0.0</text>
<path d="M185.3 1616.2H193.8" stroke="#000" stroke-width="3"/>
<text x="182.6" y="1624" font-size="23" text-anchor="end" stroke="#000" stroke-width="0.55">0.5</text>
<path d="M185.3 1528.1H193.8" stroke="#000" stroke-width="3"/>
<text x="182.6" y="1535.9" font-size="23" text-anchor="end" stroke="#000" stroke-width="0.55">1.0</text>
<path d="M185.3 1440H193.8" stroke="#000" stroke-width="3"/>
<text x="182.6" y="1447.8" font-size="23" text-anchor="end" stroke="#000" stroke-width="0.55">1.5</text>
<path d="M185.3 1351.9H193.8" stroke="#000" stroke-width="3"/>
<text x="182.6" y="1359.7" font-size="23" text-anchor="end" stroke="#000" stroke-width="0.55">2.0</text>
<path d="M242.5 1704.3V1712.8" stroke="#000" stroke-width="3"/>
<text transform="translate(249.8 1731.5) rotate(-45)" font-size="22.6" font-weight="bold" text-anchor="end">HCT116</text>
<path d="M340 1704.3V1712.8" stroke="#000" stroke-width="3"/>
<text transform="translate(347.3 1731.5) rotate(-45)" font-size="22.6" font-weight="bold" text-anchor="end">MCF10A</text>
<path d="M437.5 1704.3V1712.8" stroke="#000" stroke-width="3"/>
<text transform="translate(444.8 1731.5) rotate(-45)" font-size="22.6" font-weight="bold" text-anchor="end">T47D</text>
<path d="M535 1704.3V1712.8" stroke="#000" stroke-width="3"/>
<text transform="translate(542.3 1731.5) rotate(-45)" font-size="22.6" font-weight="bold" text-anchor="end">MCF7</text>
<path d="M632.5 1704.3V1712.8" stroke="#000" stroke-width="3"/>
<text transform="translate(639.8 1731.5) rotate(-45)" font-size="22.6" font-weight="bold" text-anchor="end">HEK293</text>
<path d="M730 1704.3V1712.8" stroke="#000" stroke-width="3"/>
<text transform="translate(737.3 1731.5) rotate(-45)" font-size="22.6" font-weight="bold" text-anchor="end">Huh7</text>
<text transform="translate(761.3 1303.6) scale(1 1)" font-size="28.3" font-weight="bold" text-anchor="end">GDH Isoform 2</text>
<text x="761.1" y="1335.3" font-size="25.4" font-weight="bold" text-anchor="end" textLength="313.5" lengthAdjust="spacingAndGlyphs">One-way ANOVA p ≤ 0.001</text>
<text transform="translate(136.2 1771.9) rotate(-90)" font-size="31.5" font-weight="bold">Relative GDH isoform 2/ponceau</text>
<rect x="1047.4" y="1664.2" width="67" height="36.2" fill="#0000c2"/>
<path d="M1047.4 1700.4V1664.2H1114.4V1700.4" fill="none" stroke="#000" stroke-width="4" stroke-linejoin="bevel"/>
<path d="M1080.9 1664.2V1659.7M1064.4 1659.7H1097.4" stroke="#000" stroke-width="4" fill="none"/>
<text x="1084" y="1632.6" font-size="25.5" font-weight="bold" text-anchor="middle">a</text>
<rect x="1147.9" y="1664.2" width="67" height="36.2" fill="#a00000"/>
<path d="M1147.9 1700.4V1664.2H1214.9V1700.4" fill="none" stroke="#000" stroke-width="4" stroke-linejoin="bevel"/>
<path d="M1181.4 1664.2V1652.2M1164.9 1652.2H1197.9" stroke="#000" stroke-width="4" fill="none"/>
<text x="1180.3" y="1628.6" font-size="25.5" font-weight="bold" text-anchor="middle">a</text>
<rect x="1248.4" y="1642.6" width="67" height="57.8" fill="#c8ffc8"/>
<path d="M1248.4 1700.4V1642.6H1315.4V1700.4" fill="none" stroke="#000" stroke-width="4" stroke-linejoin="bevel"/>
<path d="M1281.9 1642.6V1626.4M1265.4 1626.4H1298.4" stroke="#000" stroke-width="4" fill="none"/>
<text x="1280.6" y="1602.3" font-size="25.5" font-weight="bold" text-anchor="middle">a</text>
<rect x="1348.9" y="1634.9" width="67" height="65.5" fill="#00ff00"/>
<path d="M1348.9 1700.4V1634.9H1415.9V1700.4" fill="none" stroke="#000" stroke-width="4" stroke-linejoin="bevel"/>
<path d="M1382.4 1634.9V1614.6M1365.9 1614.6H1398.9" stroke="#000" stroke-width="4" fill="none"/>
<text x="1383.1" y="1589.8" font-size="25.5" font-weight="bold" text-anchor="middle">a</text>
<rect x="1449.4" y="1619.7" width="67" height="80.7" fill="#04bf7b"/>
<path d="M1449.4 1700.4V1619.7H1516.4V1700.4" fill="none" stroke="#000" stroke-width="4" stroke-linejoin="bevel"/>
<path d="M1482.9 1619.7V1581.9M1466.4 1581.9H1499.4" stroke="#000" stroke-width="4" fill="none"/>
<text x="1482.2" y="1561.4" font-size="25.5" font-weight="bold" text-anchor="middle">a</text>
<rect x="1549.9" y="1495" width="67" height="205.4" fill="#005800"/>
<path d="M1549.9 1700.4V1495H1616.9V1700.4" fill="none" stroke="#000" stroke-width="4" stroke-linejoin="bevel"/>
<path d="M1583.4 1495V1419.5M1566.9 1419.5H1599.9" stroke="#000" stroke-width="4" fill="none"/>
<text x="1583.6" y="1394.5" font-size="25.5" font-weight="bold" text-anchor="middle">b</text>
<path d="M1030.6 1700.4V1331" stroke="#000" stroke-width="3" fill="none"/>
<path d="M1022.1 1700.4H1634.7" stroke="#000" stroke-width="3" fill="none"/>
<path d="M1022.1 1700.4H1030.6" stroke="#000" stroke-width="3"/>
<text x="1019.4" y="1708.2" font-size="23" text-anchor="end" stroke="#000" stroke-width="0.55">0</text>
<path d="M1022.1 1626.82H1030.6" stroke="#000" stroke-width="3"/>
<text x="1019.4" y="1634.62" font-size="23" text-anchor="end" stroke="#000" stroke-width="0.55">1</text>
<path d="M1022.1 1553.24H1030.6" stroke="#000" stroke-width="3"/>
<text x="1019.4" y="1561.04" font-size="23" text-anchor="end" stroke="#000" stroke-width="0.55">2</text>
<path d="M1022.1 1479.66H1030.6" stroke="#000" stroke-width="3"/>
<text x="1019.4" y="1487.46" font-size="23" text-anchor="end" stroke="#000" stroke-width="0.55">3</text>
<path d="M1022.1 1406.08H1030.6" stroke="#000" stroke-width="3"/>
<text x="1019.4" y="1413.88" font-size="23" text-anchor="end" stroke="#000" stroke-width="0.55">4</text>
<path d="M1022.1 1332.5H1030.6" stroke="#000" stroke-width="3"/>
<text x="1019.4" y="1340.3" font-size="23" text-anchor="end" stroke="#000" stroke-width="0.55">5</text>
<path d="M1080.9 1700.4V1708.9" stroke="#000" stroke-width="3"/>
<text transform="translate(1088.8 1728.7) rotate(-45)" font-size="23.4" font-weight="bold" text-anchor="end">HCT116</text>
<path d="M1181.4 1700.4V1708.9" stroke="#000" stroke-width="3"/>
<text transform="translate(1189.3 1728.7) rotate(-45)" font-size="23.4" font-weight="bold" text-anchor="end">MCF10A</text>
<path d="M1281.9 1700.4V1708.9" stroke="#000" stroke-width="3"/>
<text transform="translate(1289.8 1728.7) rotate(-45)" font-size="23.4" font-weight="bold" text-anchor="end">T47D</text>
<path d="M1382.4 1700.4V1708.9" stroke="#000" stroke-width="3"/>
<text transform="translate(1390.3 1728.7) rotate(-45)" font-size="23.4" font-weight="bold" text-anchor="end">MCF7</text>
<path d="M1482.9 1700.4V1708.9" stroke="#000" stroke-width="3"/>
<text transform="translate(1490.8 1728.7) rotate(-45)" font-size="23.4" font-weight="bold" text-anchor="end">HEK293</text>
<path d="M1583.4 1700.4V1708.9" stroke="#000" stroke-width="3"/>
<text transform="translate(1591.3 1728.7) rotate(-45)" font-size="23.4" font-weight="bold" text-anchor="end">Huh7</text>
<text transform="translate(1620.7 1310.5) scale(1 1)" font-size="28.3" font-weight="bold" text-anchor="end">GDH Isoform 3</text>
<text x="1620.5" y="1342.4" font-size="25.4" font-weight="bold" text-anchor="end" textLength="313.1" lengthAdjust="spacingAndGlyphs">One-way ANOVA p ≤ 0.001</text>
<text transform="translate(989 1768.5) rotate(-90)" font-size="32.5" font-weight="bold">Relative GDH isoform 3/ponceau</text>
</svg></body></html>
